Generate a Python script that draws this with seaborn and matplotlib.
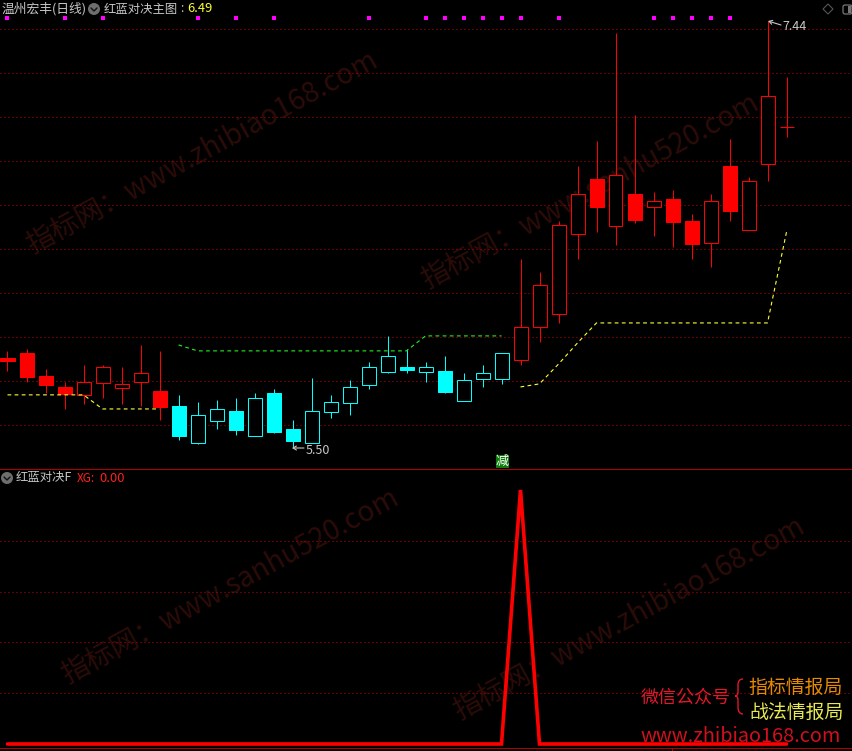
import numpy as np
import pandas as pd
import matplotlib
matplotlib.use("Agg")
import matplotlib.pyplot as plt
import seaborn as sns
from matplotlib.path import Path
from matplotlib.patches import Circle, Polygon, Rectangle, FancyBboxPatch, PathPatch


# CANDLE DATA

highs = [5.939, 5.948, 5.857, 5.798, 5.875, 5.875, 5.866, 5.966, 5.939, 5.739,
         5.707, 5.716, 5.725, 5.748, 5.766, 5.625, 5.816, 5.739, 5.807, 5.889,
         6.007, 5.948, 5.889, 5.916, 5.839, 5.875, 5.929, 6.357, 6.298, 6.529,
         6.779, 6.893, 7.384, 7.011, 6.661, 6.670, 6.561, 6.652, 6.902, 6.729,
         7.440, 7.184]
body_top = [5.907, 5.929, 5.825, 5.775, 5.798, 5.866, 5.789, 5.839, 5.757, 5.689,
            5.648, 5.675, 5.666, 5.725, 5.748, 5.584, 5.666, 5.707, 5.775, 5.866,
            5.916, 5.866, 5.866, 5.848, 5.807, 5.839, 5.929, 6.048, 6.239, 6.511,
            6.652, 6.720, 6.739, 6.652, 6.620, 6.629, 6.529, 6.620, 6.779, 6.711,
            7.098, 6.957]
body_bottom = [5.893, 5.820, 5.784, 5.743, 5.739, 5.793, 5.770, 5.798, 5.684, 5.552,
               5.520, 5.620, 5.579, 5.552, 5.570, 5.529, 5.520, 5.661, 5.702, 5.784,
               5.843, 5.852, 5.843, 5.752, 5.711, 5.811, 5.811, 5.898, 6.048, 6.107,
               6.470, 6.593, 6.507, 6.534, 6.593, 6.525, 6.425, 6.429, 6.575, 6.489,
               6.789, 6.955]
lows = [5.848, 5.798, 5.748, 5.675, 5.698, 5.725, 5.698, 5.689, 5.625, 5.534,
        5.516, 5.584, 5.557, 5.552, 5.566, 5.502, 5.520, 5.634, 5.648, 5.766,
        5.839, 5.839, 5.798, 5.748, 5.711, 5.775, 5.789, 5.875, 5.979, 6.066,
        6.357, 6.479, 6.420, 6.520, 6.461, 6.411, 6.357, 6.320, 6.529, 6.489,
        6.711, 6.911]
filled = [1, 1, 1, 1, 0, 0, 0, 0, 1, 1,
          0, 0, 1, 0, 1, 1, 0, 0, 0, 0,
          0, 1, 0, 1, 0, 0, 0, 0, 0, 0,
          0, 1, 0, 1, 0, 1, 1, 0, 1, 0,
          0, 1]
candle_colors = ['#ff0000'] * 9 + ['#00ffff'] * 18 + ['#ff0000'] * 15

# dashed stop line, three pieces
stop1_x = [0, 1, 2, 3, 4, 5, 6, 7, 8]
stop1_y = [5.739, 5.739, 5.739, 5.739, 5.739, 5.675, 5.675, 5.675, 5.675]
stop2_x = [9, 10, 11, 12, 13, 14, 15, 16, 17, 18, 19, 20, 21, 22, 23, 24, 25, 26]
stop2_y = [5.966, 5.939, 5.939, 5.939, 5.939, 5.939, 5.939, 5.939, 5.939, 5.939,
           5.939, 5.939, 5.939, 6.007, 6.007, 6.007, 6.007, 6.007]
stop3_x = [27, 28, 29, 30, 31, 32, 33, 34, 35, 36, 37, 38, 39, 40, 41]
stop3_y = [5.775, 5.789, 5.879, 5.975, 6.066, 6.066, 6.066, 6.066, 6.066, 6.066,
           6.066, 6.066, 6.066, 6.066, 6.479]

signal_idx = [0, 3, 5, 10, 12, 14, 19, 22, 23, 24, 25, 26, 27, 29, 34, 35, 36, 37, 38]
signal_y = [7.45] * 19

price_grid = [5.6, 5.8, 6.0, 6.2, 6.4, 6.6, 6.8, 7.0, 7.2, 7.4]

xg_idx = list(range(42))
xg_values = [0] * 27 + [1] + [0] * 14
xg_grid = [0.2, 0.4, 0.6, 0.8]

GRID = '#c00000'
THIN = 0.72  # one pixel at 100 dpi
DOTS = (0, (1.0, 3.0))


# FIGURE

sns.set_theme(style='dark', rc={'figure.facecolor': 'black', 'axes.facecolor': 'none'})
plt.rcParams['font.family'] = ['Noto Sans CJK SC', 'DejaVu Sans']

fig = plt.figure(figsize=(8.53, 7.51), dpi=100, facecolor='black')


def panel(top_px, bottom_px, z=1):
    return fig.add_axes([0, 1 - bottom_px / 751, 1, (bottom_px - top_px) / 751], zorder=z)


# overlays in pixel coordinates, for watermark and labels
back = fig.add_axes([0, 0, 1, 1], zorder=-1)
front = fig.add_axes([0, 0, 1, 1], zorder=5)
for a in (back, front):
    a.set_xlim(0, 853)
    a.set_ylim(751, 0)
    a.axis('off')


# WATERMARK

wm_color = '#2c0c08'
wm = [(32, 254, "指标网：www.zhibiao168.com"),
      (427, 289, "指标网：www.sanhu520.com"),
      (67, 684, "指标网：www.sanhu520.com"),
      (459, 720, "指标网：www.zhibiao168.com")]
for x, y, t in wm:
    back.text(x, y, t, color=wm_color, fontsize=20.2, rotation=28.5,
              rotation_mode='anchor', ha='left', va='baseline')


# PRICE PANEL

ax = panel(0, 469)
ax.set_xlim(-7.5 / 19, (853 - 7.5) / 19)
ax.set_ylim(5.402, 7.534)
ax.set_yticks(price_grid)
ax.set_yticklabels([])
ax.set_xticks([])
ax.tick_params(length=0)
ax.set_axisbelow(True)
ax.grid(axis='y', color=GRID, lw=THIN, linestyle=DOTS)
ax.grid(axis='x', visible=False)
sns.despine(ax=ax, left=True, bottom=True)

for i in range(len(highs)):
    c = candle_colors[i]
    ax.vlines(i, body_top[i], highs[i], color=c, lw=THIN, zorder=2)
    ax.vlines(i, lows[i], body_bottom[i], color=c, lw=THIN, zorder=2)
    ax.bar(i, body_top[i] - body_bottom[i], bottom=body_bottom[i], width=14 / 19,
           facecolor=c if filled[i] else 'black', edgecolor=c, linewidth=THIN, zorder=3)

dash = (0, (3.4, 3.0))
line_kw = dict(lw=0.8, linestyle=dash, dash_capstyle='butt', ax=ax, zorder=4)
sns.lineplot(x=stop1_x, y=stop1_y, color='#ffff33', **line_kw)
sns.lineplot(x=stop2_x, y=stop2_y, color='#22ee22', **line_kw)
sns.lineplot(x=stop3_x, y=stop3_y, color='#ffff33', **line_kw)

sns.scatterplot(x=signal_idx, y=signal_y, marker='s', s=7, color='#ff00ff',
                linewidth=0, ax=ax, zorder=4)
ax.set_xlabel('')
ax.set_ylabel('')


# XG PANEL

ax2 = panel(469, 748)
ax2.set_xlim(-7.5 / 19, (853 - 7.5) / 19)
ax2.set_ylim(-4 / 254, 275 / 254)
ax2.set_yticks(xg_grid)
ax2.set_yticklabels([])
ax2.set_xticks([])
ax2.tick_params(length=0)
ax2.set_axisbelow(True)
ax2.grid(axis='y', color=GRID, lw=THIN, linestyle=DOTS)
ax2.grid(axis='x', visible=False)
for s in ['left', 'right']:
    ax2.spines[s].set_visible(False)
for s in ['top', 'bottom']:
    ax2.spines[s].set_color('#b00000')
    ax2.spines[s].set_linewidth(THIN)
sns.lineplot(x=xg_idx, y=xg_values, color='#ff0000', lw=2.6, ax=ax2, zorder=4,
             solid_joinstyle='miter')
ax2.set_xlabel('')
ax2.set_ylabel('')
front.plot([672.5, 672.5], [748, 751], color='#b00000', lw=THIN)


# LABELS

GREY = '#c8c8c8'
front.text(2, 9, "温州宏丰(日线)", color=GREY, fontsize=9.2, va='center')
front.text(104, 9, "红蓝对决主图", color=GREY, fontsize=8.9, va='center')
front.text(180, 9, ":", color=GREY, fontsize=8.5, va='center')
front.text(187, 9, "6.49", color='#ffff33', fontsize=9.3, va='center')
front.text(16, 478, "红蓝对决F", color=GREY, fontsize=8.9, va='center')
front.text(77, 478, "XG:", color='#ff2020', fontsize=8.5, va='center')
front.text(99, 478, "0.00", color='#ff2020', fontsize=9.3, va='center')

for cx, cy in [(94, 9), (7, 478)]:
    front.add_patch(Circle((cx, cy), 6, color='#6e6e6e', lw=0))
    front.plot([cx - 3, cx, cx + 3], [cy - 1, cy + 2, cy - 1], color='#111111', lw=1.0)

front.add_patch(Polygon([(828, 4), (833, 9), (828, 14), (823, 9)], closed=True, fill=False,
                        edgecolor='#555555', lw=0.8))
front.add_patch(FancyBboxPatch((843, 5), 9, 9, boxstyle='round,pad=0,rounding_size=2',
                               fill=False, edgecolor='#777777', lw=0.9))
front.add_patch(Rectangle((848, 6), 3, 7, color='#777777', lw=0))

front.text(782, 26, "7.44", color=GREY, fontsize=9.0, va='center')
front.annotate('', xy=(768, 21), xytext=(781, 25),
               arrowprops=dict(arrowstyle='->,head_length=0.2,head_width=0.12', color=GREY, lw=0.8,
                               shrinkA=0, shrinkB=0))
front.text(306, 450, "5.50", color=GREY, fontsize=9.0, va='center')
front.annotate('', xy=(292, 448), xytext=(304, 448),
               arrowprops=dict(arrowstyle='->,head_length=0.2,head_width=0.12', color=GREY, lw=0.8,
                               shrinkA=0, shrinkB=0))

front.add_patch(Rectangle((496, 455), 13, 13, color='#0a7d0a', lw=0))
front.text(502.5, 461, "减", color='white', fontsize=9.5, ha='center', va='center')

front.text(641, 698, "微信公众号", color='#e0182a', fontsize=13, va='center')
brace = Path([(743, 679), (738, 679), (738, 685), (738, 692), (738, 696), (735, 696),
              (738, 696), (738, 700), (738, 707), (738, 714), (743, 714)],
             [Path.MOVETO, Path.CURVE3, Path.CURVE3, Path.LINETO, Path.CURVE3, Path.CURVE3,
              Path.CURVE3, Path.CURVE3, Path.LINETO, Path.CURVE3, Path.CURVE3])
front.add_patch(PathPatch(brace, fill=False, edgecolor='#e0182a', lw=1.0))
front.text(748, 687, "指标情报局", color='#e68a00', fontsize=13.6, va='center')
front.text(749, 712, "战法情报局", color='#e8e850', fontsize=13.6, va='center')
front.text(640, 736, "www.zhibiao168.com", color='#d0101c', fontsize=14.3, va='center')

fig.savefig('out.png', dpi=100, facecolor='black')
